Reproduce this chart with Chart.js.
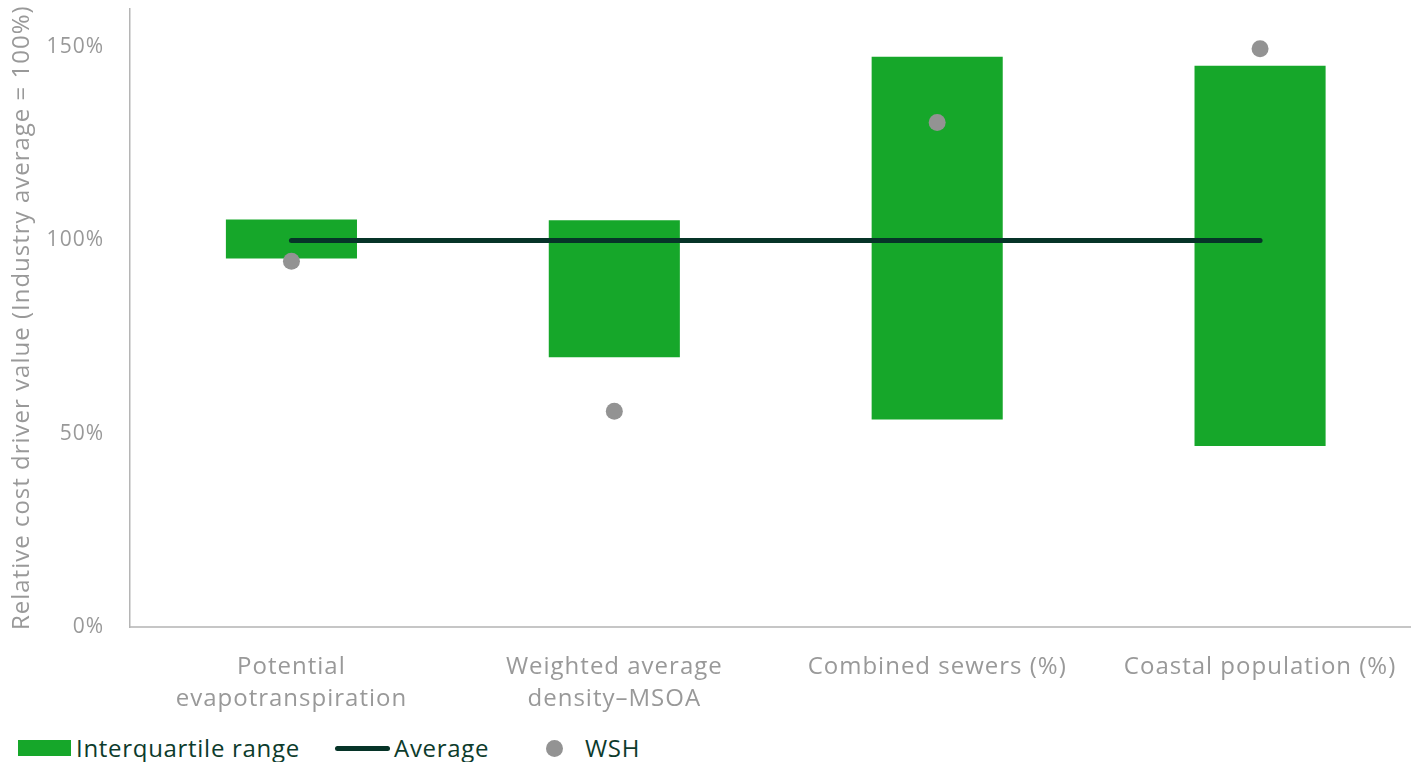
<!DOCTYPE html>
<html>
<head>
<meta charset="utf-8">
<script src="https://cdn.jsdelivr.net/npm/chart.js@4.4.1/dist/chart.umd.min.js"></script>
<style>
  html, body { margin: 0; padding: 0; background: #fff; overflow: hidden; }
  #wrap { position: relative; width: 1430px; height: 762px; }
  #box { position: absolute; left: 0; top: 0; width: 1430px; height: 720px; }
  #legend { position: absolute; left: 18px; top: 733px; height: 30px; line-height: 30px; display: flex; align-items: center;
            font-family: "Open Sans", sans-serif; font-size: 24px; letter-spacing: 0.7px; color: #0d3b2c; }
  .item { display: flex; align-items: center; white-space: nowrap; height: 30px; }
  .swatch-bar { width: 53px; height: 16px; background: #16a72a; margin-right: 5px; }
  .swatch-line { width: 55px; height: 5px; border-radius: 3px; background: #063428; margin-right: 4px; }
  .swatch-dot { width: 17px; height: 17px; border-radius: 50%; background: #939393; margin: 0 22px 0 0; }
</style>
</head>
<body>
<div id="wrap">
  <div id="box"><canvas id="chart"></canvas></div>
  <div id="legend">
    <div class="item" style="width:317px"><span class="swatch-bar"></span>Interquartile range</div>
    <div class="item" style="width:211px"><span class="swatch-line"></span>Average</div>
    <div class="item"><span class="swatch-dot"></span>WSH</div>
  </div>
</div>
<script>
const categories = [
  ['Potential', 'evapotranspiration'],
  ['Weighted average', 'density\u2013MSOA'],
  'Combined sewers (%)',
  'Coastal population (%)'
];
const iqrLow = [95.3, 69.8, 53.7, 46.8];
const iqrHigh = [105.4, 105.2, 147.5, 145.2];
const average = [100, 100, 100, 100];
const wsh = [94.6, 55.8, 130.5, 149.6];
const yTicks = [0, 50, 100, 150];

const grey = '#999999';
const font = '"Open Sans", sans-serif';

// a touch of tracking on all canvas text (canvas resets it on resize)
const spacing = {
  id: 'spacing',
  beforeLayout: c => { c.ctx.letterSpacing = '1px'; },
  beforeDraw: c => { c.ctx.letterSpacing = '1px'; }
};

const ctx = document.getElementById('chart').getContext('2d');
const chart = new Chart(ctx, {
  plugins: [spacing],
  data: {
    labels: categories,
    datasets: [
      {
        type: 'line',
        label: 'WSH',
        data: wsh,
        showLine: false,
        pointRadius: 8.5,
        pointBackgroundColor: '#939393',
        pointBorderWidth: 0,
        order: 1
      },
      {
        type: 'line',
        label: 'Average',
        data: average,
        borderColor: '#063428',
        borderWidth: 5,
        borderCapStyle: 'round',
        pointRadius: 0,
        order: 2
      },
      {
        type: 'bar',
        label: 'Interquartile range',
        data: iqrLow.map((lo, i) => [lo, iqrHigh[i]]),
        backgroundColor: '#16a72a',
        barPercentage: 0.406,
        categoryPercentage: 1,
        order: 3
      }
    ]
  },
  options: {
    responsive: true,
    maintainAspectRatio: false,
    animation: false,
    layout: { padding: { top: 8, left: 0, right: 0, bottom: 0 } },
    plugins: { legend: { display: false }, tooltip: { enabled: false } },
    scales: {
      x: {
        grid: { display: false },
        border: { color: '#c6c6c6', width: 2 },
        ticks: {
          color: grey,
          font: { family: font, size: 24, lineHeight: 1.35 },
          padding: 16,
          maxRotation: 0,
          autoSkip: false
        },
        afterFit: s => { s.height = 93; s.paddingLeft = 0; s.paddingRight = 0; }
      },
      y: {
        min: 0,
        max: 160,
        grid: { display: false },
        border: { color: '#b5b5b5', width: 1.5 },
        afterBuildTicks: s => { s.ticks = yTicks.map(v => ({ value: v })); },
        ticks: { color: grey, font: { family: font, size: 21 }, padding: 18, callback: v => v + '%' },
        title: {
          display: true,
          text: 'Relative cost driver value (Industry average = 100%)',
          color: grey,
          font: { family: font, size: 24 },
          padding: { top: 8, bottom: 0 }
        },
        afterFit: s => { s.width = 130; s.paddingTop = 0; s.paddingBottom = 0; }
      }
    }
  }
});
</script>
</body>
</html>
